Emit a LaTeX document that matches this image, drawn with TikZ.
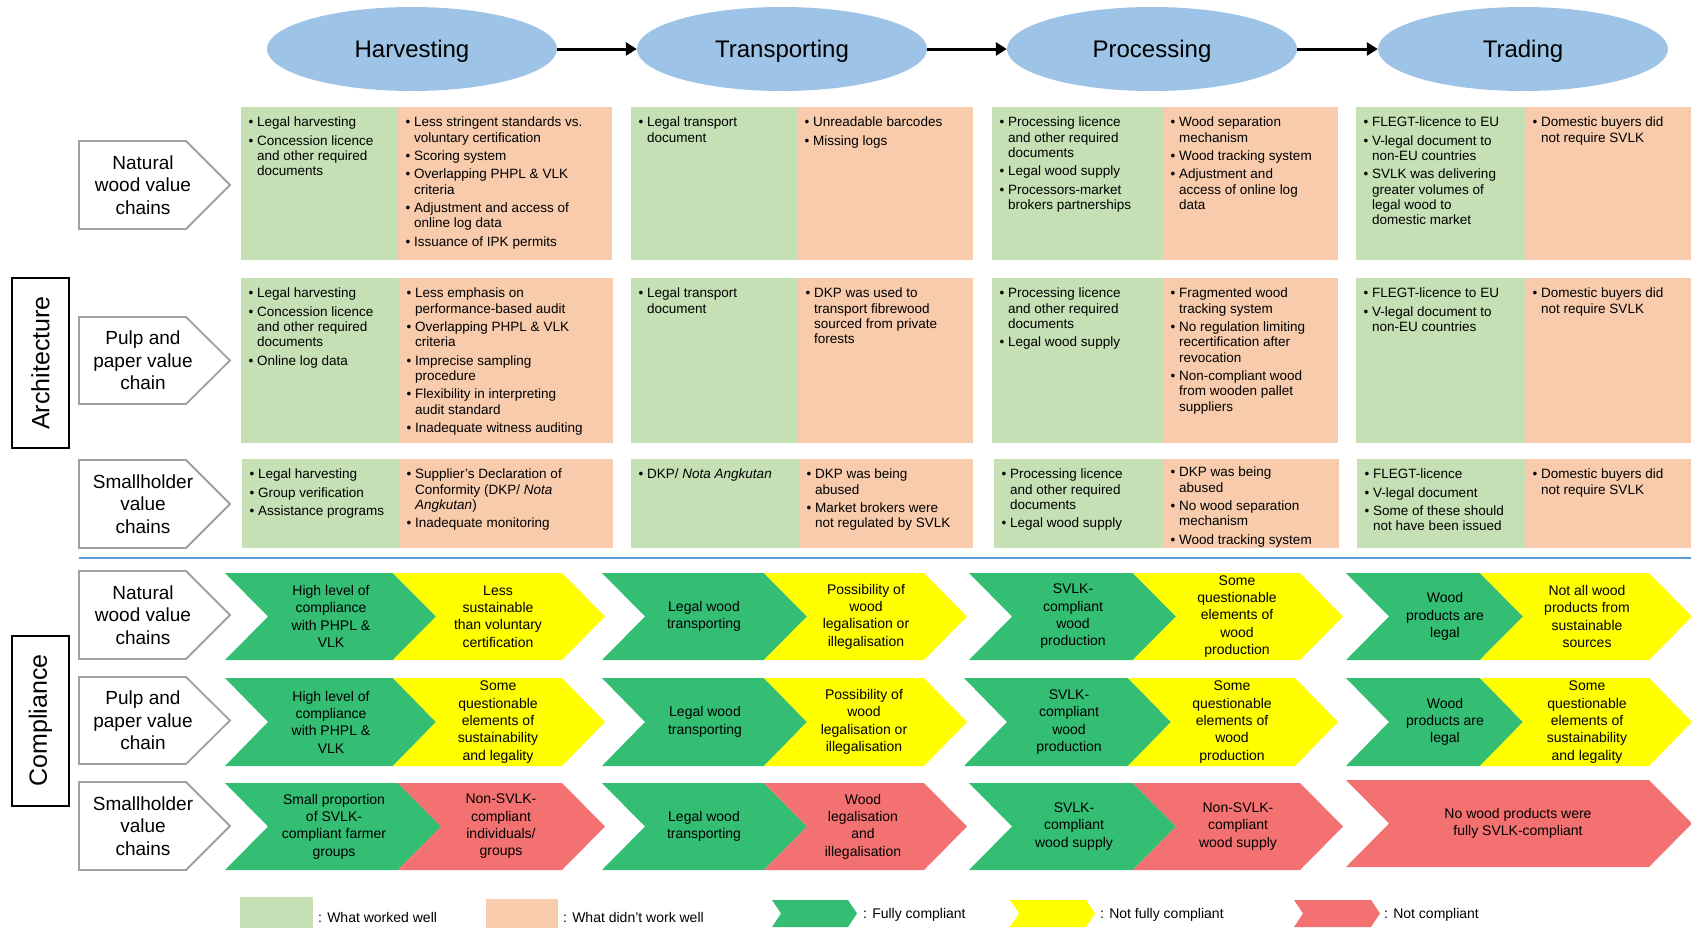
\documentclass[tikz,border=0pt]{standalone}
\usepackage{fontspec}
\setmainfont{Liberation Sans}
\usetikzlibrary{shapes.geometric,arrows.meta}
\definecolor{stageblue}{HTML}{9DC3E6}
\definecolor{okcol}{HTML}{C5E0B4}
\definecolor{badcol}{HTML}{F8CBAD}
\definecolor{fullc}{RGB}{51,190,116}
\definecolor{partc}{HTML}{FFFF00}
\definecolor{nonc}{RGB}{244,113,113}
\definecolor{chaingray}{HTML}{A0A0A0}
\definecolor{divblue}{HTML}{5B9BD5}
\newcommand{\dotitem}{\makebox[8.5pt][l]{\textbullet}}
\newcommand{\contline}{\hspace*{8.5pt}}
\tikzset{
  stage/.style={ellipse, fill=stageblue, minimum width=290pt, minimum height=84pt, inner sep=0pt, text depth=0pt, font=\fontsize{24}{28}\selectfont},
  flow/.style={line width=3pt, -{Triangle[length=11pt,width=13pt]}},
  chainbox/.style={draw=chaingray, line width=1.8pt, fill=white},
  chainlbl/.style={align=center, inner sep=0pt, font=\fontsize{19}{22.5}\selectfont},
  sidebox/.style={draw, line width=2pt, rotate=90, minimum width=170pt, minimum height=57pt, inner sep=0pt, font=\fontsize{25}{30}\selectfont},
  bul/.style={anchor=north west, align=left, inner sep=0pt, font=\fontsize{13.5}{15.3}\selectfont},
  chevtxt/.style={align=center, inner sep=0pt, font=\fontsize{14}{17.3}\selectfont},
  legtxt/.style={anchor=base west, inner sep=0pt, font=\fontsize{14}{17}\selectfont}
}
\begin{document}
\begin{tikzpicture}[x=1pt,y=-1pt]
\useasboundingbox (0,0) rectangle (1691,927);
\clip (0,0) rectangle (1691,927);
\node[stage] (harv) at (412,49) {Harvesting};
\node[stage] (trans) at (782,49) {Transporting};
\node[stage] (proc) at (1152,49) {Processing};
\node[stage] (trad) at (1523,49) {Trading};
\draw[flow] (harv) -- (trans);
\draw[flow] (trans) -- (proc);
\draw[flow] (proc) -- (trad);
\node[sidebox] (arch) at (40.5,363) {Architecture};
\node[sidebox] (comp) at (40.5,720.5) {Compliance};
\draw[chainbox] (79,141) -- (186,141) -- (230,185) -- (186,229) -- (79,229) -- cycle;
\node[chainlbl] (a-nat) at (143,185) {Natural\\wood value\\chains};
\draw[chainbox] (79,317) -- (186,317) -- (230,360.5) -- (186,404) -- (79,404) -- cycle;
\node[chainlbl] (a-pulp) at (143,360.5) {Pulp and\\paper value\\chain};
\draw[chainbox] (79,460) -- (186,460) -- (230,504) -- (186,548) -- (79,548) -- cycle;
\node[chainlbl] (a-small) at (143,504) {Smallholder\\value\\chains};
\draw[chainbox] (79,571) -- (186,571) -- (230,615) -- (186,659) -- (79,659) -- cycle;
\node[chainlbl] (c-nat) at (143,615) {Natural\\wood value\\chains};
\draw[chainbox] (79,677) -- (186,677) -- (230,720.5) -- (186,764) -- (79,764) -- cycle;
\node[chainlbl] (c-pulp) at (143,720.5) {Pulp and\\paper value\\chain};
\draw[chainbox] (79,782) -- (186,782) -- (230,826) -- (186,870) -- (79,870) -- cycle;
\node[chainlbl] (c-small) at (143,826) {Smallholder\\value\\chains};
\fill[okcol] (241,107) rectangle (398,260); \fill[badcol] (398,107) rectangle (612,260);
\fill[okcol] (631,107) rectangle (797,260); \fill[badcol] (797,107) rectangle (973,260);
\fill[okcol] (992,107) rectangle (1163,260); \fill[badcol] (1163,107) rectangle (1338,260);
\fill[okcol] (1356,107) rectangle (1525,260); \fill[badcol] (1525,107) rectangle (1691,260);
\fill[okcol] (241,278) rectangle (399,443); \fill[badcol] (399,278) rectangle (613,443);
\fill[okcol] (631,278) rectangle (798,443); \fill[badcol] (798,278) rectangle (973,443);
\fill[okcol] (992,278) rectangle (1163,443); \fill[badcol] (1163,278) rectangle (1338,443);
\fill[okcol] (1356,278) rectangle (1525,443); \fill[badcol] (1525,278) rectangle (1691,443);
\fill[okcol] (242,459) rectangle (399,548); \fill[badcol] (399,459) rectangle (613,548);
\fill[okcol] (631,459) rectangle (799,548); \fill[badcol] (799,459) rectangle (973,548);
\fill[okcol] (994,459) rectangle (1163,548); \fill[badcol] (1163,459) rectangle (1339,548);
\fill[okcol] (1357,459) rectangle (1525,548); \fill[badcol] (1525,459) rectangle (1691,548);
\node[bul] (n-h-ok) at (248.5,117) {\dotitem Legal harvesting\\[3pt]\dotitem Concession licence\\\contline and other required\\\contline documents};
\node[bul] (n-h-bad) at (405.5,117) {\dotitem Less stringent standards vs.\\\contline voluntary certification\\[3pt]\dotitem Scoring system\\[3pt]\dotitem Overlapping PHPL \& VLK\\\contline criteria\\[3pt]\dotitem Adjustment and access of\\\contline online log data\\[3pt]\dotitem Issuance of IPK permits};
\node[bul] (n-t-ok) at (638.5,117) {\dotitem Legal transport\\\contline document};
\node[bul] (n-t-bad) at (804.5,117) {\dotitem Unreadable barcodes\\[3pt]\dotitem Missing logs};
\node[bul] (n-p-ok) at (999.5,117) {\dotitem Processing licence\\\contline and other required\\\contline documents\\[3pt]\dotitem Legal wood supply\\[3pt]\dotitem Processors-market\\\contline brokers partnerships};
\node[bul] (n-p-bad) at (1170.5,117) {\dotitem Wood separation\\\contline mechanism\\[3pt]\dotitem Wood tracking system\\[3pt]\dotitem Adjustment and\\\contline access of online log\\\contline data};
\node[bul] (n-r-ok) at (1363.5,117) {\dotitem FLEGT-licence to EU\\[3pt]\dotitem V-legal document to\\\contline non-EU countries\\[3pt]\dotitem SVLK was delivering\\\contline greater volumes of\\\contline legal wood to\\\contline domestic market};
\node[bul] (n-r-bad) at (1532.5,117) {\dotitem Domestic buyers did\\\contline not require SVLK};
\node[bul] (p-h-ok) at (248.5,288) {\dotitem Legal harvesting\\[3pt]\dotitem Concession licence\\\contline and other required\\\contline documents\\[3pt]\dotitem Online log data};
\node[bul] (p-h-bad) at (406.5,288) {\dotitem Less emphasis on\\\contline performance-based audit\\[3pt]\dotitem Overlapping PHPL \& VLK\\\contline criteria\\[3pt]\dotitem Imprecise sampling\\\contline procedure\\[3pt]\dotitem Flexibility in interpreting\\\contline audit standard\\[3pt]\dotitem Inadequate witness auditing};
\node[bul] (p-t-ok) at (638.5,288) {\dotitem Legal transport\\\contline document};
\node[bul] (p-t-bad) at (805.5,288) {\dotitem DKP was used to\\\contline transport fibrewood\\\contline sourced from private\\\contline forests};
\node[bul] (p-p-ok) at (999.5,288) {\dotitem Processing licence\\\contline and other required\\\contline documents\\[3pt]\dotitem Legal wood supply};
\node[bul] (p-p-bad) at (1170.5,288) {\dotitem Fragmented wood\\\contline tracking system\\[3pt]\dotitem No regulation limiting\\\contline recertification after\\\contline revocation\\[3pt]\dotitem Non-compliant wood\\\contline from wooden pallet\\\contline suppliers};
\node[bul] (p-r-ok) at (1363.5,288) {\dotitem FLEGT-licence to EU\\[3pt]\dotitem V-legal document to\\\contline non-EU countries};
\node[bul] (p-r-bad) at (1532.5,288) {\dotitem Domestic buyers did\\\contline not require SVLK};
\node[bul] (s-h-ok) at (249.5,469) {\dotitem Legal harvesting\\[3pt]\dotitem Group verification\\[3pt]\dotitem Assistance programs};
\node[bul] (s-h-bad) at (406.5,469) {\dotitem Supplier’s Declaration of\\\contline Conformity (DKP/ \textit{Nota}\\\contline \textit{Angkutan})\\[3pt]\dotitem Inadequate monitoring};
\node[bul] (s-t-ok) at (638.5,469) {\dotitem DKP/ \textit{Nota Angkutan}};
\node[bul] (s-t-bad) at (806.5,469) {\dotitem DKP was being\\\contline abused\\[3pt]\dotitem Market brokers were\\\contline not regulated by SVLK};
\node[bul] (s-p-ok) at (1001.5,469) {\dotitem Processing licence\\\contline and other required\\\contline documents\\[3pt]\dotitem Legal wood supply};
\node[bul] (s-p-bad) at (1170.5,467) {\dotitem DKP was being\\\contline abused\\[3pt]\dotitem No wood separation\\\contline mechanism\\[3pt]\dotitem Wood tracking system};
\node[bul] (s-r-ok) at (1364.5,469) {\dotitem FLEGT-licence\\[3pt]\dotitem V-legal document\\[3pt]\dotitem Some of these should\\\contline not have been issued};
\node[bul] (s-r-bad) at (1532.5,469) {\dotitem Domestic buyers did\\\contline not require SVLK};
\draw[divblue, line width=2pt] (79,558) -- (1691,558);
\fill[fullc] (225,573) -- ++(168,0) -- ++(43,43.5) -- ++(-43,43.5) -- ++(-168,0) -- ++(43,-43.5) -- cycle;
\fill[partc] (393,573) -- ++(169,0) -- ++(43,43.5) -- ++(-43,43.5) -- ++(-169,0) -- ++(43,-43.5) -- cycle;
\fill[fullc] (602,573) -- ++(162,0) -- ++(43,43.5) -- ++(-43,43.5) -- ++(-162,0) -- ++(43,-43.5) -- cycle;
\fill[partc] (764,573) -- ++(160,0) -- ++(43,43.5) -- ++(-43,43.5) -- ++(-160,0) -- ++(43,-43.5) -- cycle;
\fill[fullc] (969,573) -- ++(164,0) -- ++(43,43.5) -- ++(-43,43.5) -- ++(-164,0) -- ++(43,-43.5) -- cycle;
\fill[partc] (1133,573) -- ++(167,0) -- ++(43,43.5) -- ++(-43,43.5) -- ++(-167,0) -- ++(43,-43.5) -- cycle;
\fill[fullc] (1346,573) -- ++(134,0) -- ++(43,43.5) -- ++(-43,43.5) -- ++(-134,0) -- ++(43,-43.5) -- cycle;
\fill[partc] (1480,573) -- ++(169,0) -- ++(43,43.5) -- ++(-43,43.5) -- ++(-169,0) -- ++(43,-43.5) -- cycle;
\fill[fullc] (225,678) -- ++(168,0) -- ++(43,44) -- ++(-43,44) -- ++(-168,0) -- ++(43,-44) -- cycle;
\fill[partc] (393,678) -- ++(169,0) -- ++(43,44) -- ++(-43,44) -- ++(-169,0) -- ++(43,-44) -- cycle;
\fill[fullc] (602,678) -- ++(162,0) -- ++(43,44) -- ++(-43,44) -- ++(-162,0) -- ++(43,-44) -- cycle;
\fill[partc] (764,678) -- ++(160,0) -- ++(43,44) -- ++(-43,44) -- ++(-160,0) -- ++(43,-44) -- cycle;
\fill[fullc] (964,678) -- ++(164,0) -- ++(43,44) -- ++(-43,44) -- ++(-164,0) -- ++(43,-44) -- cycle;
\fill[partc] (1128,678) -- ++(167,0) -- ++(43,44) -- ++(-43,44) -- ++(-167,0) -- ++(43,-44) -- cycle;
\fill[fullc] (1346,678) -- ++(134,0) -- ++(43,44) -- ++(-43,44) -- ++(-134,0) -- ++(43,-44) -- cycle;
\fill[partc] (1480,678) -- ++(169,0) -- ++(43,44) -- ++(-43,44) -- ++(-169,0) -- ++(43,-44) -- cycle;
\fill[fullc] (225,783) -- ++(173,0) -- ++(43,43.5) -- ++(-43,43.5) -- ++(-173,0) -- ++(43,-43.5) -- cycle;
\fill[nonc] (398,783) -- ++(164,0) -- ++(43,43.5) -- ++(-43,43.5) -- ++(-164,0) -- ++(43,-43.5) -- cycle;
\fill[fullc] (602,783) -- ++(162,0) -- ++(43,43.5) -- ++(-43,43.5) -- ++(-162,0) -- ++(43,-43.5) -- cycle;
\fill[nonc] (764,783) -- ++(160,0) -- ++(43,43.5) -- ++(-43,43.5) -- ++(-160,0) -- ++(43,-43.5) -- cycle;
\fill[fullc] (969,783) -- ++(164,0) -- ++(43,43.5) -- ++(-43,43.5) -- ++(-164,0) -- ++(43,-43.5) -- cycle;
\fill[nonc] (1133,783) -- ++(167,0) -- ++(43,43.5) -- ++(-43,43.5) -- ++(-167,0) -- ++(43,-43.5) -- cycle;
\fill[nonc] (1346,780) -- ++(303,0) -- ++(43,43.5) -- ++(-43,43.5) -- ++(-303,0) -- ++(43,-43.5) -- cycle;
\node[chevtxt] (cn-h-ok) at (331,616.5) {High level of\\compliance\\with PHPL \&\\VLK};
\node[chevtxt] (cn-h-part) at (498,616.5) {Less\\sustainable\\than voluntary\\certification};
\node[chevtxt] (cn-t-ok) at (704,616.5) {Legal wood\\transporting};
\node[chevtxt] (cn-t-part) at (866,616.5) {Possibility of\\wood\\legalisation or\\illegalisation};
\node[chevtxt] (cn-p-ok) at (1073,616.5) {SVLK-\\compliant\\wood\\production};
\node[chevtxt] (cn-p-part) at (1237,616.5) {Some\\questionable\\elements of\\wood\\production};
\node[chevtxt] (cn-r-ok) at (1445,616.5) {Wood\\products are\\legal};
\node[chevtxt] (cn-r-part) at (1587,616.5) {Not all wood\\products from\\sustainable\\sources};
\node[chevtxt] (cp-h-ok) at (331,722) {High level of\\compliance\\with PHPL \&\\VLK};
\node[chevtxt] (cp-h-part) at (498,722) {Some\\questionable\\elements of\\sustainability\\and legality};
\node[chevtxt] (cp-t-ok) at (705,722) {Legal wood\\transporting};
\node[chevtxt] (cp-t-part) at (864,722) {Possibility of\\wood\\legalisation or\\illegalisation};
\node[chevtxt] (cp-p-ok) at (1069,722) {SVLK-\\compliant\\wood\\production};
\node[chevtxt] (cp-p-part) at (1232,722) {Some\\questionable\\elements of\\wood\\production};
\node[chevtxt] (cp-r-ok) at (1445,722) {Wood\\products are\\legal};
\node[chevtxt] (cp-r-part) at (1587,722) {Some\\questionable\\elements of\\sustainability\\and legality};
\node[chevtxt] (cs-h-ok) at (334,826.5) {Small proportion\\of SVLK-\\compliant farmer\\groups};
\node[chevtxt] (cs-h-non) at (501,826.5) {Non-SVLK-\\compliant\\individuals/\\groups};
\node[chevtxt] (cs-t-ok) at (704,826.5) {Legal wood\\transporting};
\node[chevtxt] (cs-t-non) at (863,826.5) {Wood\\legalisation\\and\\illegalisation};
\node[chevtxt] (cs-p-ok) at (1074,826.5) {SVLK-\\compliant\\wood supply};
\node[chevtxt] (cs-p-non) at (1238,826.5) {Non-SVLK-\\compliant\\wood supply};
\node[chevtxt] (cs-r-non) at (1518,823.5) {No wood products were\\fully SVLK-compliant};
\fill[okcol] (240,897) rectangle (313,935);
\node[legtxt] (lg-ok) at (318,922) {: What worked well};
\fill[badcol] (486,899) rectangle (558,935);
\node[legtxt] (lg-bad) at (563,922) {: What didn’t work well};
\fill[fullc] (772,900) -- ++(76,0) -- ++(9,13.5) -- ++(-9,13.5) -- ++(-76,0) -- ++(9,-13.5) -- cycle;
\node[legtxt] (lg-full) at (863,918) {: Fully compliant};
\fill[partc] (1010,900) -- ++(76,0) -- ++(9,13.5) -- ++(-9,13.5) -- ++(-76,0) -- ++(9,-13.5) -- cycle;
\node[legtxt] (lg-part) at (1100,918) {: Not fully compliant};
\fill[nonc] (1294,900) -- ++(77,0) -- ++(9,13.5) -- ++(-9,13.5) -- ++(-77,0) -- ++(9,-13.5) -- cycle;
\node[legtxt] (lg-non) at (1384,918) {: Not compliant};
\end{tikzpicture}
\end{document}
